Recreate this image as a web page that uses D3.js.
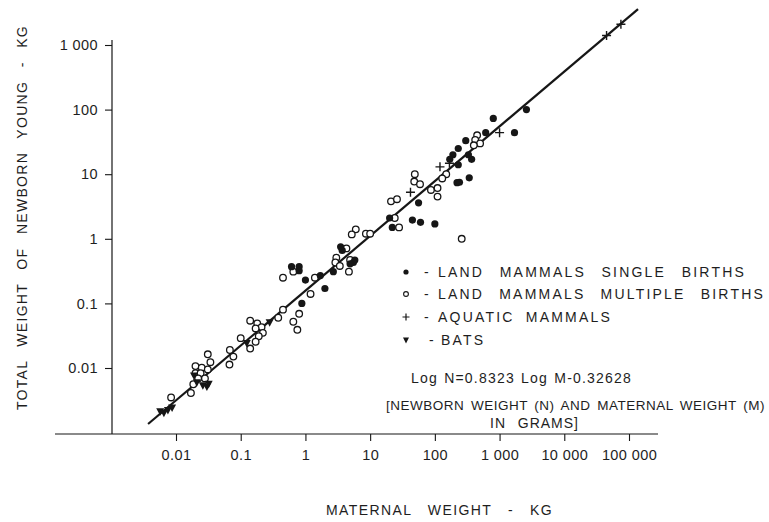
<!DOCTYPE html>
<html>
<head>
<meta charset="utf-8">
<script src="https://cdn.jsdelivr.net/npm/d3@7"></script>
<style>
  body { margin: 0; background: #fff; }
  svg { display: block; font-family: "Liberation Sans", Arial, sans-serif; }
  text { fill: #1e1e1e; }
</style>
</head>
<body>
<div class="board"></div>
<script>
var width = 769, height = 522

// kg values
var singleMaternal = [2600, 800, 1700, 610, 300, 230, 190, 170, 370, 230, 330, 220, 240, 340, 56, 20, 22, 45, 60, 100,
    3.5, 3.7, 5.8, 5.5, 4.9, 2.7, 1.7, 0.61, 0.8, 0.8, 1.0, 2.0, 0.88]
var singleNewborn = [100, 73, 44, 44, 33, 25, 20, 17, 17, 14, 20, 7.4, 7.5, 8.8, 3.6, 2.1, 1.5, 1.95, 1.8, 1.7,
    0.75, 0.66, 0.47, 0.43, 0.41, 0.31, 0.27, 0.37, 0.37, 0.32, 0.23, 0.17, 0.1]

var multipleMaternal = [450, 420, 500, 400, 150, 130, 49, 48, 59, 87, 110, 110, 21, 26, 24, 28, 8.6, 10, 260, 6.0,
    5.2, 4.3, 3.0, 2.9, 4.9, 4.7, 3.4, 1.4, 0.45, 0.65, 1.2, 0.45, 0.8, 0.65, 0.75, 0.38, 0.14, 0.18, 0.21, 0.17,
    0.22, 0.19, 0.1, 0.14, 0.17, 0.068, 0.077, 0.067, 0.031, 0.034, 0.02, 0.025, 0.031, 0.02, 0.024, 0.022, 0.028,
    0.0185, 0.017, 0.0084]
var multipleNewborn = [40, 34, 30, 28, 10, 8.6, 10, 7.7, 7.0, 5.7, 6.1, 4.5, 3.8, 4.1, 2.1, 1.5, 1.2, 1.2, 1.0, 1.4,
    1.17, 0.71, 0.51, 0.43, 0.47, 0.31, 0.38, 0.25, 0.25, 0.31, 0.14, 0.08, 0.069, 0.052, 0.039, 0.06, 0.054, 0.049,
    0.043, 0.041, 0.035, 0.031, 0.029, 0.02, 0.0255, 0.019, 0.015, 0.0113, 0.0163, 0.0123, 0.0107, 0.0101, 0.0095,
    0.0083, 0.0083, 0.0069, 0.0069, 0.0056, 0.0041, 0.0035]

var aquaticMaternal = [1000, 120, 168, 42, 45000, 75000]
var aquaticNewborn = [44, 13, 14.8, 5.25, 1400, 2100]

var batMaternal = [0.0057, 0.0065, 0.0075, 0.0087, 0.019, 0.021, 0.026, 0.030, 0.032, 0.124, 0.28]
var batNewborn = [0.0021, 0.0020, 0.0022, 0.0024, 0.0075, 0.0059, 0.0053, 0.0051, 0.0056, 0.024, 0.050]

// the drawn regression line, ends
var lineMaternal = [0.0037, 138000]
var lineNewborn = [0.00136, 3600]

var xTicks = [0.01, 0.1, 1, 10, 100, 1000, 10000, 100000]
var xTickLabels = ["0.01", "0.1", "1", "10", "100", "1 000", "10 000", "100 000"]
var yTicks = [0.01, 0.1, 1, 10, 100, 1000]
var yTickLabels = ["0.01", "0.1", "1", "10", "100", "1 000"]

var legendLabels = ["LAND MAMMALS SINGLE BIRTHS", "LAND MAMMALS MULTIPLE BIRTHS", "AQUATIC MAMMALS", "BATS"]
var legendLengths = [308, 327, 174, 40]

var INK = "#161616"
var FONT_SIZE = 14

var svg = d3.select(".board")
    .append("svg")
    .attr("width", width)
    .attr("height", height)

// spread words (not letters) so a label fills the width it has in the picture
function fitWords(sel, target) {
    var node = sel.node()
    var spaces = (sel.text().match(/ /g) || []).length
    if (!spaces || !target) return
    var ws = 0
    for (var k = 0; k < 3; k++) {
        var len = node.getComputedTextLength()
        ws += (target - len) / spaces
        ws = Math.max(ws, 1)
        sel.style("word-spacing", ws + "px")
    }
}

function label(x0, y0, str, target, spacing, size) {
    var t = svg.append("text")
        .attr("x", x0).attr("y", y0)
        .attr("font-size", size || FONT_SIZE)
        .style("letter-spacing", spacing + "px")
        .text(str)
    fitWords(t, target)
    return t
}

var x = d3.scaleLog().domain([0.01, 100000]).range([176, 629])
var y = d3.scaleLog().domain([0.01, 1000]).range([368, 45])

var AXIS_Y = 434, AXIS_X = 112

// frame lines
svg.append("line")
    .attr("x1", 55).attr("x2", 658)
    .attr("y1", AXIS_Y).attr("y2", AXIS_Y)
    .attr("stroke", INK).attr("stroke-width", 1.2)
svg.append("line")
    .attr("x1", AXIS_X).attr("x2", AXIS_X)
    .attr("y1", 40).attr("y2", AXIS_Y)
    .attr("stroke", INK).attr("stroke-width", 1.2)

var xAxis = svg.append("g")
    .attr("transform", `translate(0, ${AXIS_Y})`)
    .call(d3.axisBottom(x).tickValues(xTicks).tickSize(7).tickPadding(9)
        .tickFormat((d, i) => xTickLabels[i]))
xAxis.select(".domain").remove()

var yAxis = svg.append("g")
    .attr("transform", `translate(${AXIS_X}, 0)`)
    .call(d3.axisLeft(y).tickValues(yTicks).tickSize(7).tickPadding(7)
        .tickFormat((d, i) => yTickLabels[i]))
yAxis.select(".domain").remove()

svg.selectAll(".tick line").attr("stroke", INK).attr("stroke-width", 1.1)
svg.selectAll(".tick text")
    .attr("font-size", 14.5)
    .style("letter-spacing", "0.4px")
    .attr("font-family", "Liberation Sans, Arial, sans-serif")
    .attr("fill", "#1e1e1e")

// axis titles
var yTitle = svg.append("text")
    .attr("transform", "translate(27, 410) rotate(-90)")
    .attr("font-size", FONT_SIZE)
    .style("letter-spacing", "1.3px")
    .text("TOTAL WEIGHT OF NEWBORN YOUNG - KG")
fitWords(yTitle, 385)

label(326, 515, "MATERNAL WEIGHT - KG", 227, 1.4)

// regression line
svg.append("line")
    .attr("x1", x(lineMaternal[0])).attr("y1", y(lineNewborn[0]))
    .attr("x2", x(lineMaternal[1])).attr("y2", y(lineNewborn[1]))
    .attr("stroke", INK)
    .attr("stroke-width", 2.2)

function pairs(ms, ns) {
    return ms.map((m, i) => [m, ns[i]])
}

var triangle = "M-4,-3.5L4,-3.5L0,4Z"
var plus = "M-4.5,0L4.5,0M0,-4.5L0,4.5"

svg.selectAll(".multiple")
    .data(pairs(multipleMaternal, multipleNewborn))
    .enter()
    .append("circle")
    .classed("multiple", true)
    .attr("cx", d => x(d[0]))
    .attr("cy", d => y(d[1]))
    .attr("r", 3.3)
    .attr("fill", "white")
    .attr("stroke", INK)
    .attr("stroke-width", 1.3)

svg.selectAll(".single")
    .data(pairs(singleMaternal, singleNewborn))
    .enter()
    .append("circle")
    .classed("single", true)
    .attr("cx", d => x(d[0]))
    .attr("cy", d => y(d[1]))
    .attr("r", 3.6)
    .attr("fill", INK)

svg.selectAll(".aquatic")
    .data(pairs(aquaticMaternal, aquaticNewborn))
    .enter()
    .append("path")
    .classed("aquatic", true)
    .attr("transform", d => `translate(${x(d[0])}, ${y(d[1])})`)
    .attr("d", plus)
    .attr("stroke", INK)
    .attr("stroke-width", 1.4)

svg.selectAll(".bat")
    .data(pairs(batMaternal, batNewborn))
    .enter()
    .append("path")
    .classed("bat", true)
    .attr("transform", d => `translate(${x(d[0])}, ${y(d[1])})`)
    .attr("d", triangle)
    .attr("fill", INK)

// legend
var LEGEND_Y = [272, 294, 317, 340]
var legend = svg.append("g")

legend.append("circle").attr("cx", 406).attr("cy", LEGEND_Y[0]).attr("r", 2.6).attr("fill", INK)
legend.append("circle").attr("cx", 406).attr("cy", LEGEND_Y[1]).attr("r", 2.4)
    .attr("fill", "white").attr("stroke", INK).attr("stroke-width", 1.1)
legend.append("path").attr("transform", `translate(406, ${LEGEND_Y[2]})`)
    .attr("d", "M-3.5,0L3.5,0M0,-3.5L0,3.5").attr("stroke", INK).attr("stroke-width", 1.2)
legend.append("path").attr("transform", `translate(406, ${LEGEND_Y[3]})`)
    .attr("d", "M-3,-2.5L3,-2.5L0,3.5Z").attr("fill", INK)

LEGEND_Y.forEach((ly, i) => {
    label(i == 3 ? 429 : 424, ly + 5, "-", 0, 0)
    label(i == 3 ? 441 : 438, ly + 5, legendLabels[i], legendLengths[i], 2.2)
})

label(411, 383, "Log N=0.8323 Log M-0.32628", 221, 1.2)
label(386, 410, "[NEWBORN WEIGHT (N) AND MATERNAL WEIGHT (M)", 379, 0.5, 13.5)
label(490, 428, "IN GRAMS]", 89, 1.0)
</script>
</body>
</html>
